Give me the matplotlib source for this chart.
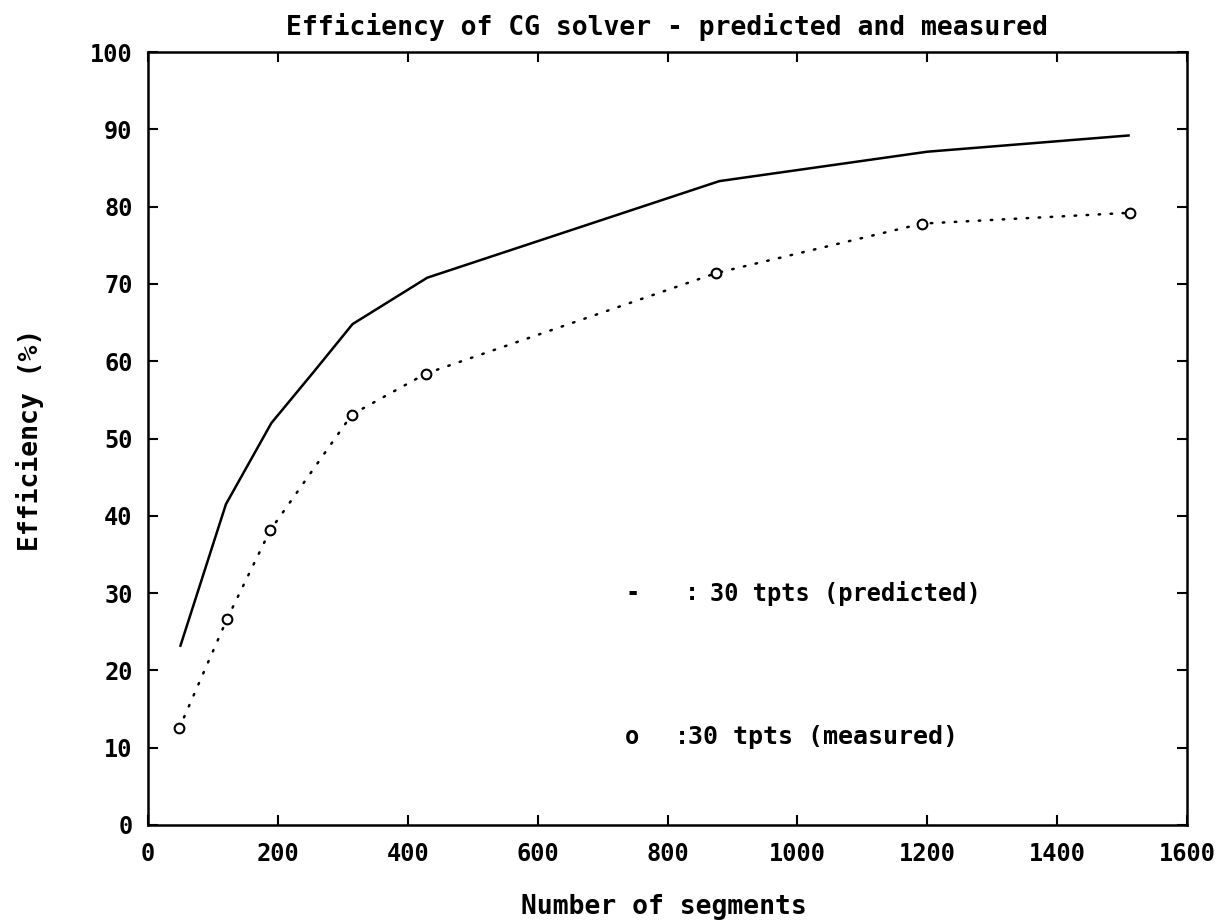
import matplotlib.pyplot as plt
import numpy as np

# predicted efficiency (solid line)
pred_x = [50, 120, 190, 255, 315, 430, 880, 1200, 1510]
pred_y = [23.2, 41.5, 52.0, 58.6, 64.8, 70.8, 83.3, 87.1, 89.2]

# measured efficiency (dotted line with o markers)
meas_x = [48, 122, 188, 314, 428, 875, 1192, 1512]
meas_y = [12.5, 26.7, 38.1, 53.1, 58.4, 71.4, 77.8, 79.2]

xticks = np.arange(0, 1601, 200)
yticks = np.arange(0, 101, 10)

mono = 'DejaVu Sans Mono'

fig = plt.figure(figsize=(12.28, 9.24), dpi=100)
ax = fig.add_axes([148/1228, 1-825/924, (1187-148)/1228, (825-52)/924])

ax.plot(pred_x, pred_y, color='black', lw=1.8, solid_joinstyle='round')
ax.plot(meas_x, meas_y, color='black', lw=1.8, linestyle=(0, (0.6, 4.2)),
        dash_capstyle='round', marker='o', markersize=7, mfc='white',
        mec='black', mew=1.5)

ax.set_xlim(0, 1600)
ax.set_ylim(0, 100)
ax.set_xticks(xticks)
ax.set_yticks(yticks)
ax.tick_params(direction='in', length=7, width=1.5, top=True, right=True,
               labelsize=17)
ax.tick_params(axis='x', pad=12)
ax.tick_params(axis='y', pad=11)
for lab in ax.get_xticklabels() + ax.get_yticklabels():
    lab.set_family(mono)
    lab.set_weight('bold')
for s in ax.spines.values():
    s.set_linewidth(1.8)

# legend written as text, like the original plotter output
ax.text(735, 30.0, '-', family=mono, weight='bold', fontsize=17, va='center')
ax.text(827, 30.0, ':', family=mono, weight='bold', fontsize=17, va='center')
ax.text(866, 30.0, '30 tpts (predicted)', family=mono, weight='bold', fontsize=17, va='center')
ax.text(735, 11.4, 'o', family=mono, weight='bold', fontsize=17, va='center')
ax.text(812, 11.4, ':', family=mono, weight='bold', fontsize=17, va='center')
ax.text(832, 11.4, '30 tpts (measured)', family=mono, weight='bold', fontsize=18, va='center')

fig.text(667/1228, 1-27/924, 'Efficiency of CG solver - predicted and measured',
         family=mono, weight='bold', fontsize=19, ha='center', va='center')
fig.text(664/1228, 1-907/924, 'Number of segments',
         family=mono, weight='bold', fontsize=19, ha='center', va='center')
fig.text(30/1228, 1-440/924, 'Efficiency (%)', rotation=90,
         family=mono, weight='bold', fontsize=19, ha='center', va='center')

fig.savefig('out.png', dpi=100)
